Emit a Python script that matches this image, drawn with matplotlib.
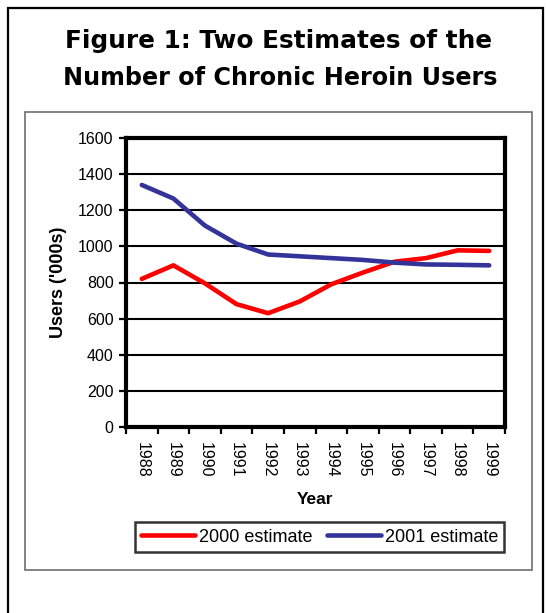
import matplotlib
matplotlib.use("Agg")
import matplotlib.pyplot as plt
from matplotlib.patches import Rectangle
from matplotlib.ticker import FixedLocator, NullFormatter

years = ["1988", "1989", "1990", "1991", "1992", "1993", "1994", "1995", "1996", "1997", "1998", "1999"]
est_2000 = [820, 895, 795, 680, 630, 695, 790, 855, 915, 935, 978, 975]
est_2001 = [1340, 1265, 1115, 1015, 955, 945, 935, 925, 910, 900, 898, 895]
yticks = [0, 200, 400, 600, 800, 1000, 1200, 1400, 1600]

W, H = 546, 613
fig = plt.figure(figsize=(W / 100, H / 100), dpi=100)
fig.patch.set_facecolor("white")

def fx(px):
    return px / W

def fy(py):
    return 1 - py / H

# outer border
fig.patches.append(Rectangle((fx(8), fy(640)), fx(543) - fx(8), fy(8) - fy(640),
                             transform=fig.transFigure, fill=False, edgecolor="black", linewidth=1.6))
# inner chart box
fig.patches.append(Rectangle((fx(25), fy(570)), fx(532) - fx(25), fy(112) - fy(570),
                             transform=fig.transFigure, fill=False, edgecolor="#6e6e6e", linewidth=1.2))

fig.text(fx(279), fy(41), "Figure 1: Two Estimates of the", ha="center", va="center",
         fontsize=17.8, fontweight="bold", family="DejaVu Sans")
fig.text(fx(280), fy(78), "Number of Chronic Heroin Users", ha="center", va="center",
         fontsize=17.2, fontweight="bold", family="DejaVu Sans")

ax = fig.add_axes([fx(126), fy(427), fx(505) - fx(126), fy(138) - fy(427)])
x = list(range(len(years)))
ax.plot(x, est_2000, color="#ff0000", linewidth=3.3, label="2000 estimate", solid_capstyle="round")
ax.plot(x, est_2001, color="#333399", linewidth=3.3, label="2001 estimate", solid_capstyle="round")

ax.set_xlim(-0.5, len(years) - 0.5)
ax.set_ylim(0, 1600)
ax.set_yticks(yticks)
ax.set_yticklabels([str(v) for v in yticks], family="Liberation Sans", fontsize=11.5)
ax.yaxis.grid(True, color="black", linewidth=1.5)
ax.set_axisbelow(True)

ax.set_xticks(x)
ax.set_xticklabels(years, rotation=-90, family="Liberation Sans", fontsize=11.5)
ax.xaxis.set_minor_locator(FixedLocator([i - 0.5 for i in range(len(years) + 1)]))
ax.xaxis.set_minor_formatter(NullFormatter())
ax.tick_params(axis="x", which="major", length=0, pad=11)
ax.tick_params(axis="x", which="minor", length=5, width=1.6, direction="out", color="black")
ax.tick_params(axis="y", length=5, width=1.6, direction="out", pad=4)

for s in ax.spines.values():
    s.set_linewidth(3)
    s.set_color("black")

ax.set_ylabel("Users ('000s)", family="Liberation Sans", fontweight="bold", fontsize=13, labelpad=8)
ax.set_xlabel("Year", family="Liberation Sans", fontweight="bold", fontsize=12.5, labelpad=10)

leg = ax.legend(loc="center", bbox_to_anchor=(fx(319.5), fy(537)), bbox_transform=fig.transFigure,
                ncol=2, frameon=True, fancybox=False, shadow=False,
                prop={"family": "Liberation Sans", "size": 13},
                handlelength=3.0, handletextpad=0.2, columnspacing=0.8, borderpad=0.35, borderaxespad=0)
leg.get_frame().set_edgecolor("black")
leg.get_frame().set_linewidth(1.8)
for line in leg.get_lines():
    line.set_linewidth(3.3)

fig.savefig("out.png", dpi=100, facecolor="white")
